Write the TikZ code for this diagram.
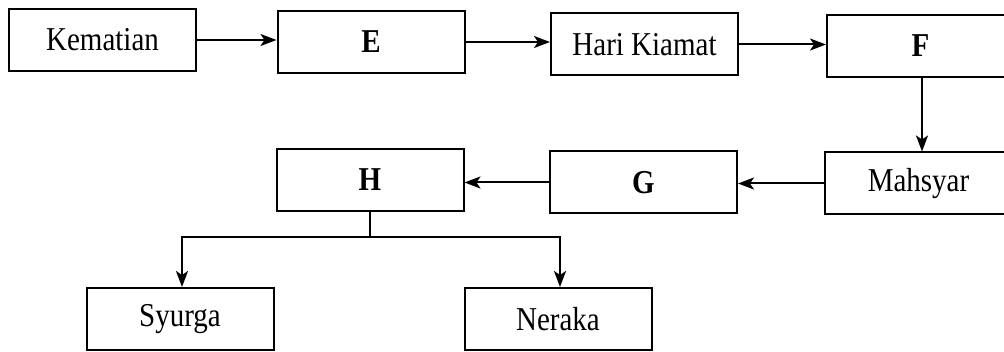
\documentclass[tikz,border=0pt]{standalone}
\usepackage{fontspec}
\usepackage{graphicx}
\setmainfont{Liberation Serif}
\usetikzlibrary{arrows.meta}
\newcommand\tallt[1]{\scalebox{1}[1.15]{#1}}
\begin{document}
\begin{tikzpicture}[x=1pt,y=-1pt,
  box/.style={draw, line width=2pt, minimum width=187pt, minimum height=62pt, inner sep=0pt,
    font=\fontsize{29}{30}\selectfont},
  bbox/.style={box, font=\fontsize{29}{30}\selectfont\bfseries},
  conn/.style={line width=2pt, -{Stealth[length=16pt,width=12pt,inset=4pt]}},
  link/.style={line width=2pt}]
\clip (0,0) rectangle (1004,352);
\fill[white] (0,0) rectangle (1004,352);
\node[box]  (kem) at (102.5,40) {\tallt{Kematian}};
\node[bbox] (e)   at (371,42) {\tallt{E}};
\node[box]  (hari) at (644.5,44.5) {\tallt{Hari Kiamat}};
\node[bbox] (f)   at (920.5,46) {\tallt{F}};
\node[box]  (mah) at (918.5,183.5) {\tallt{Mahsyar}};
\node[bbox] (g)   at (643.5,182.5) {\tallt{G}};
\node[bbox] (h)   at (370,180) {\tallt{H}};
\node[box]  (syu) at (180,319) {\tallt{Syurga}};
\node[box]  (ner) at (558,319) {\tallt{Neraka}};
\draw[conn] (kem.east) -- (e.west |- kem.east);
\draw[conn] (e.east) -- (hari.west |- e.east);
\draw[conn] (hari.east) -- (f.west |- hari.east);
\draw[conn] ([xshift=1.5pt]f.south) -- ([xshift=1.5pt]f.south |- mah.north);
\draw[conn] (mah.west) -- (g.east |- mah.west);
\draw[conn] (g.west) -- (h.east |- g.west);
\coordinate (jn) at (370,237);
\draw[link] (h.south) -- (jn);
\draw[conn] (jn) -| ([xshift=2pt]syu.north);
\draw[conn] (jn) -| ([xshift=2pt]ner.north);
\end{tikzpicture}
\end{document}
